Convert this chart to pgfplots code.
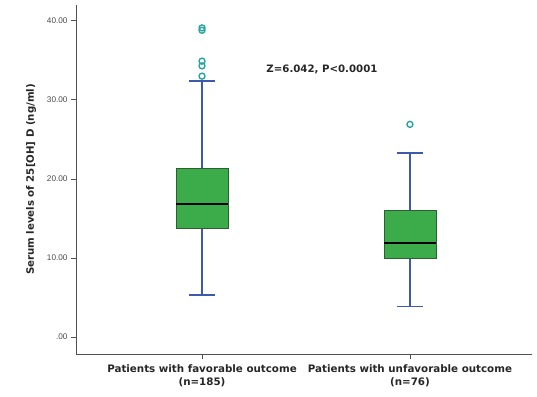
\documentclass[border=0pt]{standalone}
\usepackage{pgfplots}
\pgfplotsset{compat=1.18}
\usepgfplotslibrary{statistics}
\usepackage{fontspec}
\setmainfont{DejaVu Sans}
\newfontfamily\ticfont{Liberation Sans}
\definecolor{boxgreen}{RGB}{60,172,74}
\definecolor{boxedge}{RGB}{45,95,50}
\definecolor{whiskblue}{RGB}{62,90,170}
\definecolor{outteal}{RGB}{40,165,160}
\definecolor{axgray}{RGB}{80,80,80}
\pgfplotsset{
  mybox/.style={solid, draw=whiskblue, mark=o, mark size=3pt,
    mark options={outteal, line width=1.4pt, fill=none, solid},
    boxplot/box extend=0.25, boxplot/whisker extend=0.125,
    boxplot/every box/.style={draw=boxedge, fill=boxgreen, line width=0.6pt},
    boxplot/every whisker/.style={draw=whiskblue, line width=1.6pt},
    boxplot/every median/.style={draw=black, line width=2pt}},
}
\begin{document}
\begin{tikzpicture}
\path[use as bounding box] (-76bp,-43bp) rectangle (461bp,354bp);
\begin{axis}[
  at={(0,0)}, anchor=south west,
  scale only axis, width=456bp, height=349bp,
  xmin=-0.606, xmax=1.587, ymin=-2.15, ymax=42.0,
  axis x line=bottom, axis y line=left,
  axis line style={-, axgray, line width=0.8pt},
  xtick={0,1}, xticklabels={{Patients with favorable outcome\\(n=185)},{Patients with unfavorable outcome\\(n=76)}},
  xticklabel style={align=center, font=\fontsize{10.3bp}{13bp}\selectfont\bfseries, text=black!85, yshift=-2bp},
  ytick={0,10,20,30,40}, yticklabels={.00,10.00,20.00,30.00,40.00},
  yticklabel style={font=\ticfont\fontsize{8.2bp}{9bp}\selectfont, text=black!70},
  tick style={axgray, line width=0.8pt},
  major tick length=5bp,
  tick align=outside,
  ylabel={Serum levels of 25[OH] D (ng/ml)},
  ylabel style={font=\fontsize{10.2bp}{11bp}\selectfont\bfseries, text=black!85, at={(axis description cs:-0.08,0.5)}},
  boxplot/draw direction=y,
  clip=false,
]
\addplot[mybox,
  boxplot prepared={draw position=0, lower whisker=5.3, lower quartile=13.7,
    median=16.8, upper quartile=21.4, upper whisker=32.4}]
  coordinates {(0,33.0) (0,34.3) (0,34.9) (0,38.8) (0,39.1)};
\addplot[mybox,
  boxplot prepared={draw position=1, lower whisker=3.84, lower quartile=9.96,
    median=11.85, upper quartile=16.0, upper whisker=23.25}]
  coordinates {(1,26.9)};
\node[font=\fontsize{10.2bp}{11bp}\selectfont\bfseries, text=black!85] at (axis cs:0.577,33.8) {Z=6.042, P<0.0001};
\end{axis}
\end{tikzpicture}
\end{document}
